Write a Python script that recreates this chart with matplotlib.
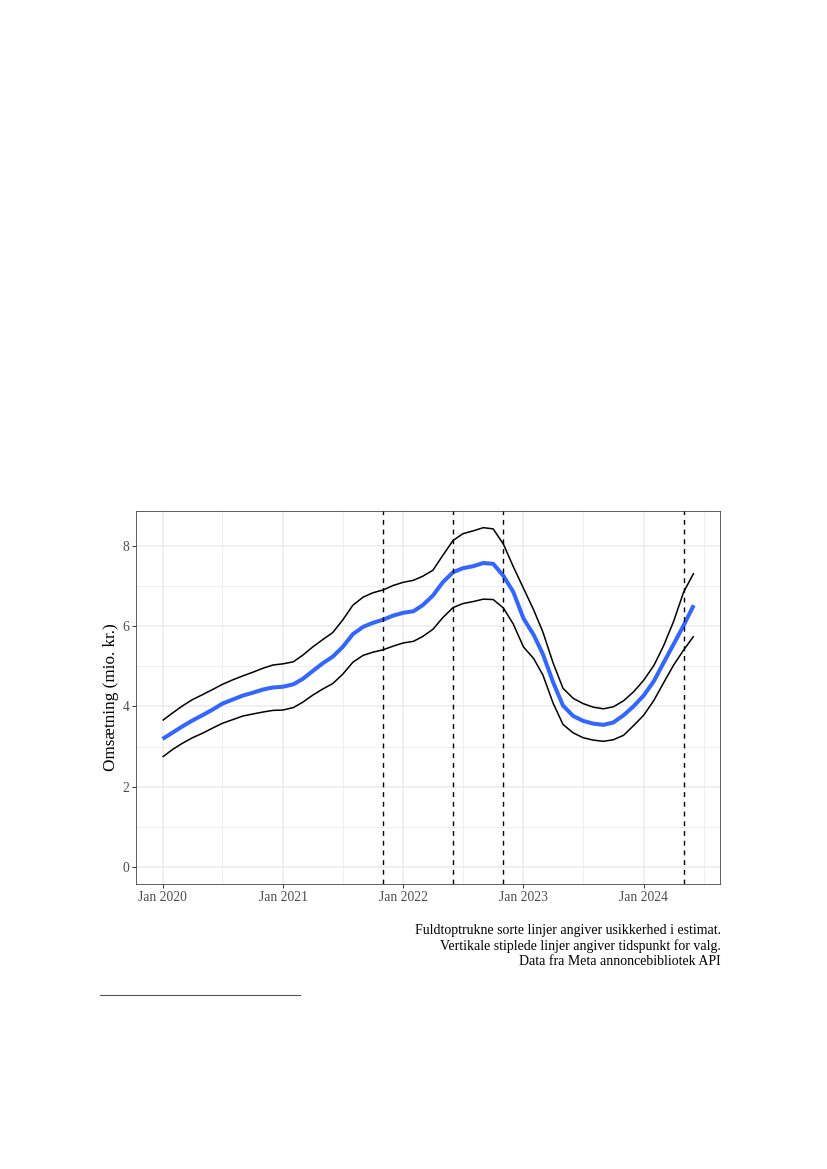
import numpy as np
import pandas as pd
import matplotlib
matplotlib.use("Agg")
import matplotlib.pyplot as plt
import matplotlib.dates as mdates
from matplotlib.lines import Line2D
from matplotlib.ticker import FixedLocator

# ---------------- data ----------------
dates = pd.date_range("2020-01-01", "2024-06-01", freq="MS")

estimate = [3.19, 3.35, 3.50, 3.65, 3.78, 3.92, 4.07, 4.17, 4.27, 4.34, 4.42, 4.47,
            4.49, 4.55, 4.68, 4.88, 5.07, 5.24, 5.48, 5.80, 5.98, 6.08, 6.16, 6.26,
            6.33, 6.37, 6.52, 6.76, 7.09, 7.34, 7.44, 7.49, 7.57, 7.55, 7.25, 6.85,
            6.19, 5.78, 5.30, 4.60, 4.02, 3.76, 3.64, 3.57, 3.54, 3.60, 3.78, 4.00,
            4.27, 4.63, 5.08, 5.55, 6.01, 6.52]

upper = [3.65, 3.84, 4.01, 4.17, 4.29, 4.42, 4.55, 4.66, 4.76, 4.85, 4.95, 5.03,
         5.06, 5.11, 5.27, 5.48, 5.66, 5.84, 6.15, 6.52, 6.72, 6.83, 6.90, 7.01,
         7.09, 7.14, 7.24, 7.39, 7.76, 8.13, 8.30, 8.37, 8.45, 8.42, 8.04, 7.48,
         6.94, 6.40, 5.85, 5.08, 4.45, 4.20, 4.07, 3.98, 3.94, 3.99, 4.14, 4.36,
         4.65, 5.02, 5.50, 6.12, 6.84, 7.32]

lower = [2.74, 2.93, 3.08, 3.22, 3.33, 3.46, 3.58, 3.67, 3.76, 3.81, 3.86, 3.90,
         3.91, 3.97, 4.10, 4.28, 4.43, 4.57, 4.80, 5.10, 5.27, 5.35, 5.41, 5.50,
         5.58, 5.62, 5.74, 5.92, 6.21, 6.46, 6.56, 6.61, 6.67, 6.66, 6.45, 6.05,
         5.48, 5.19, 4.78, 4.08, 3.55, 3.34, 3.22, 3.16, 3.13, 3.17, 3.28, 3.52,
         3.78, 4.15, 4.58, 5.03, 5.40, 5.75]

election_dates = pd.to_datetime(["2021-11-01", "2022-06-01", "2022-11-01", "2024-05-01"])

y_ticks = [0, 2, 4, 6, 8]
x_tick_years = [2020, 2021, 2022, 2023, 2024]
y_label = "Omsætning (mio. kr.)"
caption_lines = [
    "Fuldtoptrukne sorte linjer angiver usikkerhed i estimat.",
    "Vertikale stiplede linjer angiver tidspunkt for valg.",
    "Data fra Meta annoncebibliotek API",
]

# ---------------- figure ----------------
plt.rcParams["font.family"] = ["Liberation Serif", "DejaVu Serif"]

W, H = 827, 1169
fig = plt.figure(figsize=(W / 100, H / 100), dpi=100)
ax = fig.add_axes([136 / W, 1 - 884 / H, (720.3 - 136) / W, (884 - 510.7) / H])

blue = "#3366FF"
grid_col = "#EBEBEB"

for series in (upper, lower):
    ax.plot(dates, series, color="black", lw=1.1, zorder=3,
            solid_capstyle="butt", solid_joinstyle="round")
ax.plot(dates, estimate, color=blue, lw=2.9, zorder=4,
        solid_capstyle="butt", solid_joinstyle="round")

for d in election_dates:
    ax.axvline(d, color="black", lw=1.0, linestyle=(0, (3.5, 3.5)), zorder=5)

# limits like ggplot (5% expansion, y includes 0)
x0, x1 = mdates.date2num(dates[0]), mdates.date2num(dates[-1])
dx = 0.05 * (x1 - x0)
ax.set_xlim(x0 - dx, x1 + dx)
ymin, ymax = 0.0, max(upper)
dy = 0.05 * (ymax - ymin)
ax.set_ylim(ymin - dy, ymax + dy)

# ticks
xt = [mdates.date2num(pd.Timestamp(f"{y}-01-01")) for y in x_tick_years]
ax.xaxis.set_major_locator(FixedLocator(xt))
ax.set_xticklabels([f"Jan {y}" for y in x_tick_years])
xm = [mdates.date2num(pd.Timestamp(f"{y}-07-01")) for y in x_tick_years]
ax.xaxis.set_minor_locator(FixedLocator(xm))
ax.set_yticks(y_ticks)
ax.set_yticklabels([str(v) for v in y_ticks])
ax.yaxis.set_minor_locator(FixedLocator([1, 3, 5, 7]))

ax.grid(True, which="major", color=grid_col, lw=1.1, zorder=0)
ax.grid(True, which="minor", color=grid_col, lw=0.55, zorder=0)
ax.set_axisbelow(True)

ax.tick_params(which="major", length=2.75, width=0.7, color="#333333",
               labelsize=9.8, labelcolor="#4D4D4D", pad=2.0)
ax.tick_params(which="minor", length=0)

for s in ax.spines.values():
    s.set_color("#444444")
    s.set_linewidth(0.6)

ax.set_ylabel(y_label, fontsize=12.3, color="black", labelpad=2.5)

# caption
for txt, yc in zip(caption_lines, [930.5, 946, 961.5]):
    fig.text(721 / W, 1 - yc / H, txt, ha="right", va="center", fontsize=10.0, color="black")

# footnote separator line of the page
fig.add_artist(Line2D([100 / W, 300 / W], [1 - 995 / H, 1 - 995 / H],
                      transform=fig.transFigure, color="#555555", lw=0.8))

fig.savefig("out.png", dpi=100)
